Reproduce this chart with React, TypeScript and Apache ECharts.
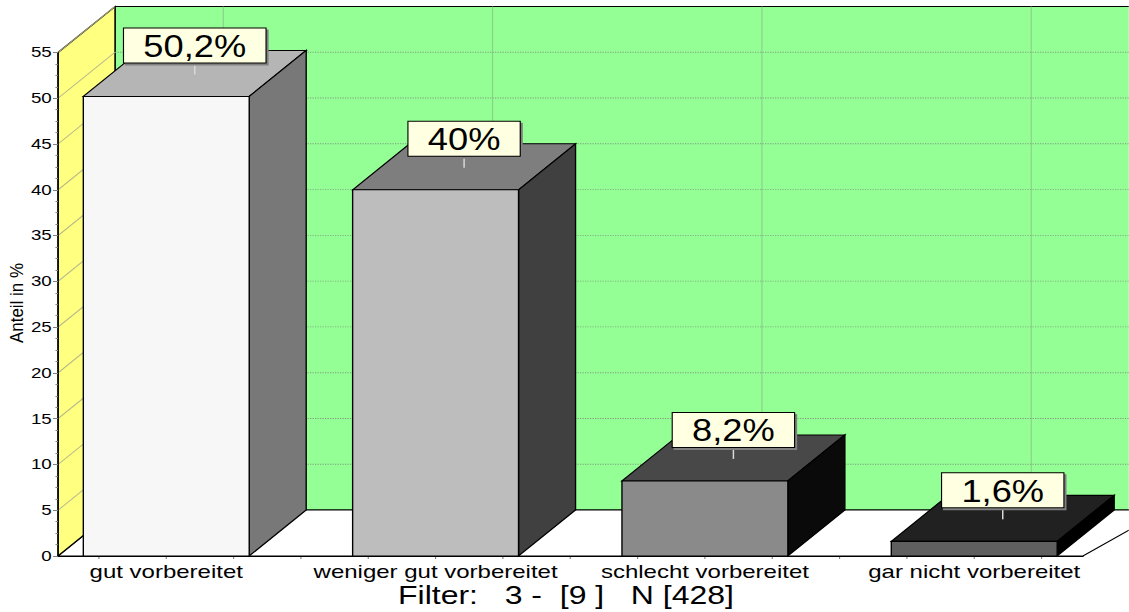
import React, { useEffect, useRef } from "react";
import * as echarts from "echarts";

const categories = ["gut vorbereitet", "weniger gut vorbereitet", "schlecht vorbereitet", "gar nicht vorbereitet"];
const shares = [50.2, 40, 8.2, 1.6];
const shareLabels = ["50,2%", "40%", "8,2%", "1,6%"];
const yTicks = [0, 5, 10, 15, 20, 25, 30, 35, 40, 45, 50, 55];
const faceColors = ["#F7F7F7", "#BDBDBD", "#8A8A8A", "#5F5F5F"];
const topColors = ["#B5B5B5", "#7E7E7E", "#484848", "#212121"];
const sideColors = ["#787878", "#404040", "#0A0A0A", "#000000"];

const S = 1.25; // horizontal stretch of the whole picture
const W = 1129 / S;
const H = 612;
const DX = 57 / S;
const DY = 46;
const FONT = '"Liberation Sans", Arial, sans-serif';
const INK = "#000";
const LW = 1.1;
const LABEL_SCALE = 0.907;
const LABEL_FONT = `32px ${FONT}`;
const LABEL_PAD = [1, 17, 1, 17];

function poly(points: number[][], fill: string, stroke: string | null = INK, z2 = 0) {
  return {
    type: "polygon",
    z2,
    shape: { points },
    style: { fill, stroke: stroke || "none", lineWidth: LW },
  };
}
function seg(x1: number, y1: number, x2: number, y2: number, stroke: string, dash?: number[], lineWidth = 0.9) {
  return {
    type: "line",
    shape: { x1, y1, x2, y2 },
    style: { stroke, lineWidth, lineDash: dash },
  };
}

const renderFrame = (_: any, api: any) => {
  const [l, b] = api.coord([0, 0]);
  const [r] = api.coord([1, 0]);
  const [, t] = api.coord([0, 55]);
  const children: any[] = [
    poly([[l + DX, t - DY], [r + DX + 20, t - DY], [r + DX + 20, b - DY], [l + DX, b - DY]], "#94FF94"),
    poly([[l, b], [l + DX, b - DY], [r + DX + 20, b - DY], [r, b]], "#FFFFFF"),
    poly([[l, t], [l + DX, t - DY], [l + DX, b - DY], [l, b]], "#FFFF80"),
  ];
  yTicks.slice(1).forEach((v) => {
    const [, y] = api.coord([0, v]);
    children.push(seg(l, y, l + DX, y - DY, "#B4B48C"));
    if (v < 55) children.push(seg(l + DX, y - DY, r + DX + 20, y - DY, "#7F9F7F", [1, 1]));
  });
  return { type: "group", children };
};

const renderBackLines = (_: any, api: any) => {
  const i = api.value(0);
  const [x, b] = api.coord([i, 0]);
  const [, t] = api.coord([i, 55]);
  return seg(x + DX, t - DY, x + DX, b - DY, "#7F9F7F", [1, 1]);
};

const renderBar = (_: any, api: any) => {
  const i = api.value(0);
  const [c, y] = api.coord([i, api.value(1)]);
  const [, b] = api.coord([i, 0]);
  const band = api.size([1, 0])[0];
  const half = band * 0.308;
  const l = c - half;
  const r = c + half;
  const midY = y - DY / 2;
  const children: any[] = [
    poly([[l, y], [l + DX, y - DY], [r + DX, y - DY], [r, y]], topColors[i]),
    poly([[r, y], [r + DX, y - DY], [r + DX, b - DY], [r, b]], sideColors[i]),
    poly([[l, y], [r, y], [r, b], [l, b]], faceColors[i]),
  ];
  [-0.25, 0, 0.25, 0.5].forEach((f) => {
    if (i + f < 3.4) {
      const tx = c + band * f;
      children.push(seg(tx, b, tx, b + 3, "#808080"));
    }
  });
  children.push(seg(c + DX / 2, midY - 11, c + DX / 2, midY + 1, "#D8D8D8", undefined, 1.2));
  const labelStyle = {
    text: shareLabels[i],
    fill: "#000",
    font: LABEL_FONT,
    align: "center",
    verticalAlign: "middle",
    backgroundColor: "#FFFFE1",
    borderColor: "#000",
    borderWidth: 1,
    padding: LABEL_PAD,
  };
  const box = new (echarts.graphic as any).Text({ style: labelStyle }).getBoundingRect();
  const cx = c + DX / 2;
  const cy = midY - 28;
  children.push({
    type: "rect",
    z2: 19,
    shape: {
      x: cx - (box.width * LABEL_SCALE) / 2 + 1.6,
      y: cy - box.height / 2 + 2,
      width: box.width * LABEL_SCALE,
      height: box.height,
    },
    style: { fill: "#808080" },
  });
  children.push({
    type: "text",
    z2: 20,
    x: cx,
    y: cy,
    scaleX: LABEL_SCALE,
    style: labelStyle,
  });
  return { type: "group", children };
};

export default function App() {
  const ref = useRef<HTMLDivElement>(null);
  useEffect(() => {
    document.body.style.margin = "0";
    document.body.style.overflow = "hidden";
    const chart = echarts.init(ref.current!, null, { renderer: "svg", width: W, height: H });
    const top = 52.5;
    const height = 503.5;
    chart.setOption({
      animation: false,
      backgroundColor: "#fff",
      textStyle: { fontFamily: FONT },
      grid: [
        { left: 31.6 / S, width: 1077.3 / S, top, height, outerBoundsMode: "none" },
        { left: 58 / S, width: 1025 / S, top, height, outerBoundsMode: "none" },
      ],
      xAxis: [
        {
          type: "category",
          gridIndex: 0,
          data: categories,
          axisLine: { show: false },
          axisTick: { show: false },
          axisLabel: { fontSize: 19.2, color: "#000", margin: 6, fontFamily: FONT, interval: 0 },
        },
        {
          type: "value",
          gridIndex: 1,
          min: 0,
          max: 1,
          splitLine: { show: false },
          axisTick: { show: false },
          axisLabel: { show: false },
          axisLine: { show: true, lineStyle: { color: "#000", width: 1.1 } },
          z: 10,
        },
      ],
      yAxis: [
        { type: "value", gridIndex: 0, min: 0, max: 55, show: false },
        {
          type: "value",
          gridIndex: 1,
          min: 0,
          max: 55,
          interval: 5,
          z: 10,
          axisLine: { show: true, lineStyle: { color: "#000", width: 1.1 } },
          axisTick: { show: true, length: 4, lineStyle: { color: "#808080" } },
          minorTick: { show: true, splitNumber: 4, length: 2, lineStyle: { color: "#808080" } },
          splitLine: { show: false },
          axisLabel: { fontSize: 15, color: "#000", margin: 5, fontFamily: FONT },
        },
      ],
      graphic: [
        {
          type: "text",
          x: 16.5 / S,
          y: 303,
          rotation: Math.PI / 2,
          scaleX: 1.21,
          style: {
            text: "Anteil in %",
            fill: "#000",
            font: `14px ${FONT}`,
            align: "center",
            verticalAlign: "middle",
          },
        },
        {
          type: "text",
          x: 566 / S,
          y: 595,
          style: {
            text: "Filter:   3 -  [9 ]   N [428]",
            fill: "#000",
            font: `25.6px ${FONT}`,
            align: "center",
            verticalAlign: "middle",
          },
        },
      ],
      series: [
        { type: "custom", xAxisIndex: 1, yAxisIndex: 1, data: [[0, 0]], renderItem: renderFrame, silent: true },
        {
          type: "custom",
          xAxisIndex: 0,
          yAxisIndex: 0,
          data: categories.map((_, i) => [i]),
          encode: { x: 0 },
          renderItem: renderBackLines,
          silent: true,
        },
        {
          type: "custom",
          xAxisIndex: 0,
          yAxisIndex: 0,
          data: shares.map((v, i) => [i, v]),
          encode: { x: 0, y: 1 },
          renderItem: renderBar,
          silent: true,
        },
      ],
    });
    return () => chart.dispose();
  }, []);
  return (
    <div
      ref={ref}
      style={{
        position: "absolute",
        left: 0,
        top: 0,
        width: W,
        height: H,
        transform: `scaleX(${S})`,
        transformOrigin: "0 0",
      }}
    />
  );
}
